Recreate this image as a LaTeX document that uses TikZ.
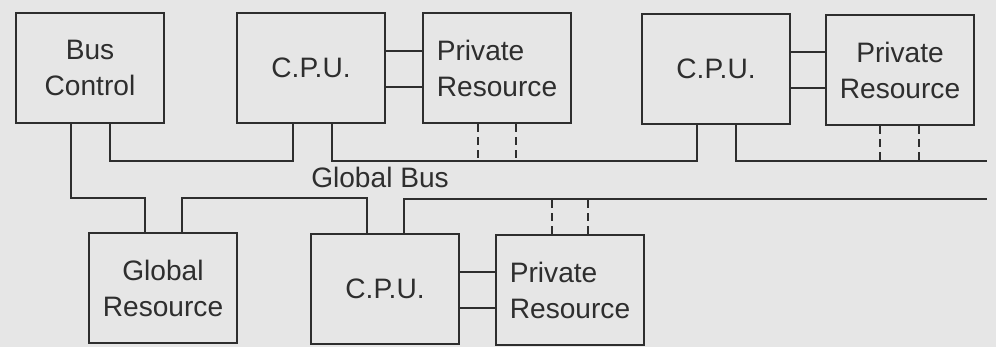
\documentclass[tikz,border=0pt]{standalone}
\usepackage{fontspec}
\setmainfont{Liberation Sans}
\usetikzlibrary{calc}
\definecolor{paper}{HTML}{E6E6E6}
\definecolor{ink}{HTML}{2E2E2E}
\tikzset{
  unit/.style={draw=ink, line width=1.2pt, minimum width=2.96cm, minimum height=2.2cm,
    inner sep=0pt, align=center, text=ink, font=\fontsize{16}{20.5}\selectfont},
  bus/.style={draw=ink, line width=1.2pt},
  tap/.style={draw=ink, line width=1.2pt, dash pattern=on 0.16cm off 0.1cm}
}
\begin{document}
\begin{tikzpicture}[x=0.02cm, y=-0.02cm]
  \fill[paper] (0,0) rectangle (996,347);
  \useasboundingbox (0,0) rectangle (996,347);
  % upper row
  \node[unit] (bc) at (90,68) {Bus\\Control};
  \node[unit] (cpuA) at (311,68) {C.P.U.};
  \node[unit, align=left] (prA) at (497,68) {Private\\Resource};
  \node[unit] (cpuB) at (716,69) {C.P.U.};
  \node[unit] (prB) at (900,70) {Private\\Resource};
  % lower row
  \node[unit] (gr) at (163,288) {Global\\Resource};
  \node[unit] (cpuC) at (385,289) {C.P.U.};
  \node[unit, align=left] (prC) at (570,290) {Private\\Resource};
  \node[text=ink, font=\fontsize{16}{20.5}\selectfont] (gbus) at (380,177) {Global Bus};
  \coordinate (upEnd) at (987,161);
  \coordinate (glEnd) at (987,199);
  % C.P.U. to private resource
  \foreach \c/\p in {cpuA/prA, cpuB/prB, cpuC/prC}
    \foreach \s in {0.34cm,-0.38cm}
      \draw[bus] ([yshift=\s]\c.east) -- ([yshift=\s]\c.east -| \p.west);
  % local buses
  \draw[bus] ([xshift=0.4cm]bc.south) -- ++(0,37) -| ([xshift=-0.36cm]cpuA.south);
  \draw[bus] ([xshift=0.42cm]cpuA.south) -- ++(0,37) -| ([xshift=-0.38cm]cpuB.south);
  \draw[bus] ([xshift=0.4cm]cpuB.south) |- (upEnd);
  \foreach \s in {-0.38cm,0.38cm}
    \draw[tap] ([xshift=\s]prA.south) -- ++(0,37);
  \foreach \s in {-0.4cm,0.38cm}
    \draw[tap] ([xshift=\s]prB.south) -- ++(0,36);
  % global bus
  \draw[bus] ([xshift=-0.38cm]bc.south) -- ++(0,74) -| ([xshift=-0.36cm]gr.north);
  \draw[bus] ([xshift=0.38cm]gr.north) -- ++(0,-34) -| ([xshift=-0.36cm]cpuC.north);
  \draw[bus] ([xshift=0.38cm]cpuC.north) |- (glEnd);
  \foreach \s in {-0.36cm,0.36cm}
    \draw[tap] ([xshift=\s]prC.north) -- ++(0,-38);
\end{tikzpicture}
\end{document}
